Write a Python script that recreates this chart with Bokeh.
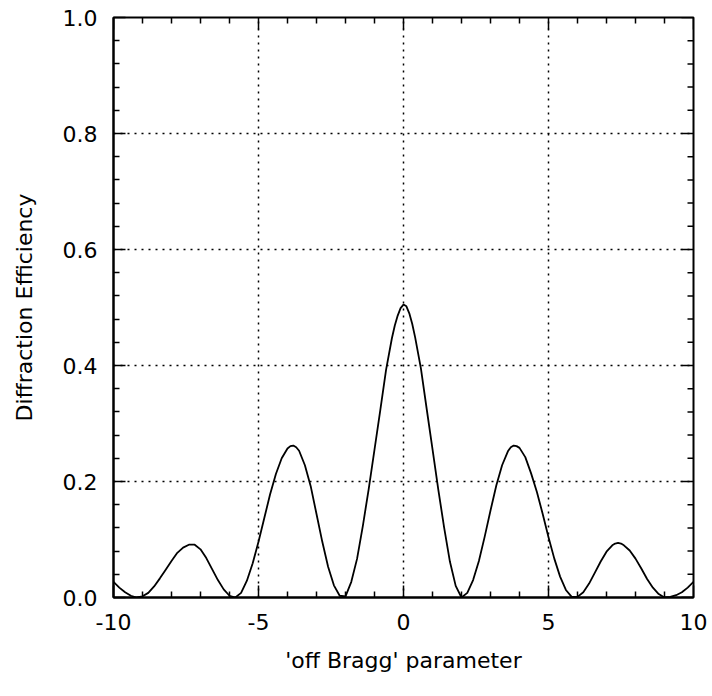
import math
from bokeh.plotting import figure
from bokeh.models import Range1d, FixedTicker
from bokeh.embed import file_html
from bokeh.resources import INLINE

# ---- data ----
x_param = [-10.0, -9.8, -9.6, -9.4, -9.2, -9.0, -8.8, -8.6, -8.4, -8.2,
           -8.0, -7.8, -7.6, -7.4, -7.2, -7.0, -6.8, -6.6, -6.4, -6.2,
           -6.0, -5.8, -5.6, -5.4, -5.2, -5.0, -4.8, -4.6, -4.4, -4.2,
           -4.0, -3.9, -3.8, -3.7, -3.6, -3.4, -3.2, -3.0, -2.8, -2.6, -2.4, -2.2,
           -2.0, -1.8, -1.6, -1.4, -1.2, -1.0, -0.8, -0.6, -0.4, -0.3, -0.2, -0.1,
           0.0,
           0.1, 0.2, 0.3, 0.4, 0.6, 0.8, 1.0, 1.2, 1.4, 1.6, 1.8, 2.0,
           2.2, 2.4, 2.6, 2.8, 3.0, 3.2, 3.4, 3.6, 3.7, 3.8, 3.9, 4.0,
           4.2, 4.4, 4.6, 4.8, 5.0, 5.2, 5.4, 5.6, 5.8, 6.0,
           6.2, 6.4, 6.6, 6.8, 7.0, 7.2, 7.3, 7.4, 7.5, 7.6, 7.8, 8.0,
           8.2, 8.4, 8.6, 8.8, 9.0, 9.2, 9.4, 9.6, 9.8, 10.0]

efficiency = [0.027, 0.017, 0.009, 0.003, 0.000, 0.002, 0.008, 0.019, 0.033, 0.048,
              0.063, 0.077, 0.086, 0.091, 0.091, 0.083, 0.068, 0.049, 0.030, 0.014,
              0.003, 0.000, 0.008, 0.029, 0.059, 0.096, 0.137, 0.178, 0.213, 0.240,
              0.257, 0.261, 0.262, 0.259, 0.253, 0.228, 0.192, 0.144, 0.096, 0.053, 0.021, 0.003,
              0.002, 0.027, 0.067, 0.124, 0.187, 0.255, 0.323, 0.393, 0.447, 0.469, 0.486, 0.499,
              0.505,
              0.502, 0.490, 0.472, 0.449, 0.395, 0.325, 0.256, 0.186, 0.121, 0.062, 0.020, 0.000,
              0.008, 0.030, 0.063, 0.105, 0.150, 0.193, 0.228, 0.252, 0.259, 0.262, 0.261, 0.258,
              0.242, 0.214, 0.182, 0.144, 0.104, 0.067, 0.036, 0.013, 0.001, 0.001,
              0.009, 0.024, 0.043, 0.062, 0.079, 0.090, 0.093, 0.094, 0.093, 0.090, 0.081, 0.067,
              0.050, 0.032, 0.017, 0.006, 0.000, 0.001, 0.004, 0.009, 0.017, 0.027]

x_major = [-10, -5, 0, 5, 10]
x_major_labels = ["-10", "-5", "0", "5", "10"]
x_minor = [-9, -8, -7, -6, -4, -3, -2, -1, 1, 2, 3, 4, 6, 7, 8, 9]
y_major = [0.0, 0.2, 0.4, 0.6, 0.8, 1.0]
y_major_labels = ["0.0", "0.2", "0.4", "0.6", "0.8", "1.0"]
y_minor = [0.04, 0.08, 0.12, 0.16, 0.24, 0.28, 0.32, 0.36, 0.44, 0.48,
           0.52, 0.56, 0.64, 0.68, 0.72, 0.76, 0.84, 0.88, 0.92, 0.96]
x_title = "'off Bragg' parameter"
y_title = "Diffraction Efficiency"

FONT = "DejaVu Sans"
MAJOR_LEN = 12
MINOR_LEN = 6

x_lo, x_hi = x_major[0], x_major[-1]
y_lo, y_hi = y_major[0], y_major[-1]

p = figure(frame_width=580, frame_height=580,
           min_border_left=113, min_border_right=19,
           min_border_top=17, min_border_bottom=99,
           x_range=Range1d(x_lo, x_hi), y_range=Range1d(y_lo, y_hi),
           output_backend="svg", toolbar_location=None,
           x_axis_label=x_title, y_axis_label=y_title)

p.background_fill_color = "white"
p.border_fill_color = "white"
p.outline_line_color = "black"
p.outline_line_width = 2

xt = FixedTicker(ticks=x_major, minor_ticks=x_minor)
yt = FixedTicker(ticks=y_major, minor_ticks=y_minor)


def style_axis(ax):
    ax.axis_line_color = "black"
    ax.axis_line_width = 2
    ax.major_tick_in = MAJOR_LEN
    ax.major_tick_out = 0
    ax.minor_tick_in = MINOR_LEN
    ax.minor_tick_out = 0
    ax.major_tick_line_color = "black"
    ax.major_tick_line_width = 1.5
    ax.minor_tick_line_color = "black"
    ax.minor_tick_line_width = 1.5
    ax.major_label_text_font = FONT
    ax.major_label_text_font_size = "22px"
    ax.major_label_text_color = "black"
    ax.axis_label_text_font = FONT
    ax.axis_label_text_font_size = "22px"
    ax.axis_label_text_font_style = "normal"
    ax.axis_label_text_color = "black"


xa = p.xaxis[0]
xa.ticker = xt
xa.major_label_overrides = dict(zip(x_major, x_major_labels))
style_axis(xa)
xa.major_label_standoff = 16
xa.axis_label_standoff = 15

ya = p.yaxis[0]
ya.ticker = yt
ya.major_label_overrides = dict(zip(y_major, y_major_labels))
style_axis(ya)
ya.major_label_standoff = 16
ya.axis_label_standoff = 23

# inward ticks on the top and right edges (no labels), drawn as screen-length rays
tick_kw = dict(line_color="black", line_width=1.5, length_units="screen", line_cap="butt")
p.ray(x=x_major, y=[y_hi] * len(x_major), length=MAJOR_LEN, angle=-math.pi / 2, **tick_kw)
p.ray(x=x_minor, y=[y_hi] * len(x_minor), length=MINOR_LEN, angle=-math.pi / 2, **tick_kw)
p.ray(x=[x_hi] * len(y_major), y=y_major, length=MAJOR_LEN, angle=math.pi, **tick_kw)
p.ray(x=[x_hi] * len(y_minor), y=y_minor, length=MINOR_LEN, angle=math.pi, **tick_kw)

for g in (p.xgrid[0], p.ygrid[0]):
    g.grid_line_color = "black"
    g.grid_line_width = 1.5
    g.grid_line_dash = "2 5"
p.xgrid[0].ticker = xt
p.ygrid[0].ticker = yt

p.line(x_param, efficiency, line_color="black", line_width=1.8, line_join="round")

open("out.html", "w").write(file_html(p, INLINE))
